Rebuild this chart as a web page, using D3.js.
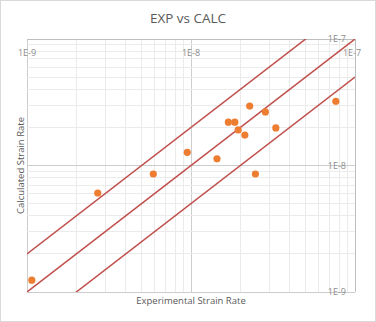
<!DOCTYPE html>
<html>
<head>
<meta charset="utf-8">
<script src="https://cdn.jsdelivr.net/npm/d3@7"></script>
<style>
  body { margin: 0; background: #fff; }
  svg { display: block; font-family: 'Open Sans', 'Noto Sans', sans-serif; }
</style>
</head>
<body>
<div id="chart"></div>
<script>
// measured points (experimental vs calculated strain rate)
const expRate = [1.07e-9, 2.70e-9, 5.89e-9, 9.49e-9, 1.44e-8, 1.69e-8, 1.85e-8, 1.94e-8, 2.13e-8, 2.28e-8, 2.47e-8, 2.84e-8, 3.29e-8, 7.64e-8];
const calcRate = [1.24e-9, 6.06e-9, 8.57e-9, 1.27e-8, 1.13e-8, 2.20e-8, 2.20e-8, 1.91e-8, 1.74e-8, 2.95e-8, 8.57e-9, 2.65e-8, 1.98e-8, 3.22e-8];
// reference lines: calc = factor * exp
const bandFactors = [2, 1, 0.5];
const axisDomain = [1e-9, 1e-7];
const tickValues = [1e-9, 1e-8, 1e-7];
const tickLabels = ['1E-9', '1E-8', '1E-7'];

const width = 376, height = 322;
const margin = { top: 39, right: 21, bottom: 30, left: 27 };
const innerW = width - margin.left - margin.right;
const innerH = height - margin.top - margin.bottom;

const svg = d3.select('#chart').append('svg')
    .attr('width', width)
    .attr('height', height);

// chart border
svg.append('rect')
    .attr('x', 0.5).attr('y', 0.5)
    .attr('width', width - 1).attr('height', height - 1)
    .attr('fill', '#fff')
    .attr('stroke', '#d9d9d9');

svg.append('text')
    .attr('x', width / 2)
    .attr('y', 23)
    .attr('text-anchor', 'middle')
    .attr('font-size', 13.5)
    .attr('fill', '#595959')
    .text('EXP vs CALC');

const g = svg.append('g')
    .attr('transform', `translate(${margin.left},${margin.top})`);

const x = d3.scaleLog().domain(axisDomain).range([0, innerW]);
const y = d3.scaleLog().domain(axisDomain).range([innerH, 0]);

// minor + major gridlines
g.append('g').selectAll('line')
    .data(x.ticks())
    .join('line')
    .attr('x1', d => x(d)).attr('x2', d => x(d))
    .attr('y1', 0).attr('y2', innerH)
    .attr('stroke', d => tickValues.includes(d) ? '#cdcdcd' : '#ebebeb')
    .attr('shape-rendering', 'crispEdges');
g.append('g').selectAll('line')
    .data(y.ticks())
    .join('line')
    .attr('x1', 0).attr('x2', innerW)
    .attr('y1', d => y(d)).attr('y2', d => y(d))
    .attr('stroke', d => tickValues.includes(d) ? '#cdcdcd' : '#ebebeb')
    .attr('shape-rendering', 'crispEdges');

// axis lines: horizontal axis sits at top, vertical axis at right
g.append('line')
    .attr('x1', 0).attr('x2', innerW).attr('y1', 0).attr('y2', 0)
    .attr('stroke', '#bfbfbf').attr('shape-rendering', 'crispEdges');
g.append('line')
    .attr('x1', innerW).attr('x2', innerW).attr('y1', 0).attr('y2', innerH)
    .attr('stroke', '#bfbfbf').attr('shape-rendering', 'crispEdges');

// tick labels
g.append('g').selectAll('text')
    .data(tickValues)
    .join('text')
    .attr('x', (d, i) => x(d) - (i === 2 ? 3 : 0))
    .attr('y', 17)
    .attr('text-anchor', 'middle')
    .attr('font-size', 9)
    .attr('fill', '#8c8c8c')
    .text((d, i) => tickLabels[i]);
g.append('g').selectAll('text')
    .data(tickValues)
    .join('text')
    .attr('x', innerW - 9)
    .attr('y', d => y(d) + 3)
    .attr('text-anchor', 'end')
    .attr('font-size', 9)
    .attr('fill', '#8c8c8c')
    .text((d, i) => tickLabels[i]);

// reference lines, clipped to plot area
g.append('clipPath').attr('id', 'plot-clip')
    .append('rect').attr('width', innerW).attr('height', innerH);
const line = d3.line().x(d => x(d[0])).y(d => y(d[1]));
g.append('g').attr('clip-path', 'url(#plot-clip)')
    .selectAll('path')
    .data(bandFactors)
    .join('path')
    .attr('fill', 'none')
    .attr('stroke', '#c0504d')
    .attr('stroke-width', 1.5)
    .attr('d', f => line(axisDomain.map(v => [v, v * f])));

// data points
g.append('g').selectAll('circle')
    .data(expRate)
    .join('circle')
    .attr('cx', d => x(d))
    .attr('cy', (d, i) => y(calcRate[i]))
    .attr('r', 3.6)
    .attr('fill', '#ed7d31');

// axis titles
svg.append('text')
    .attr('x', margin.left + innerW / 2)
    .attr('y', 304)
    .attr('text-anchor', 'middle')
    .attr('font-size', 9.5)
    .attr('fill', '#595959')
    .text('Experimental Strain Rate');
svg.append('text')
    .attr('transform', `translate(24,${margin.top + innerH / 2}) rotate(-90)`)
    .attr('text-anchor', 'middle')
    .attr('font-size', 9.5)
    .attr('fill', '#595959')
    .text('Calculated Strain Rate');
</script>
</body>
</html>
